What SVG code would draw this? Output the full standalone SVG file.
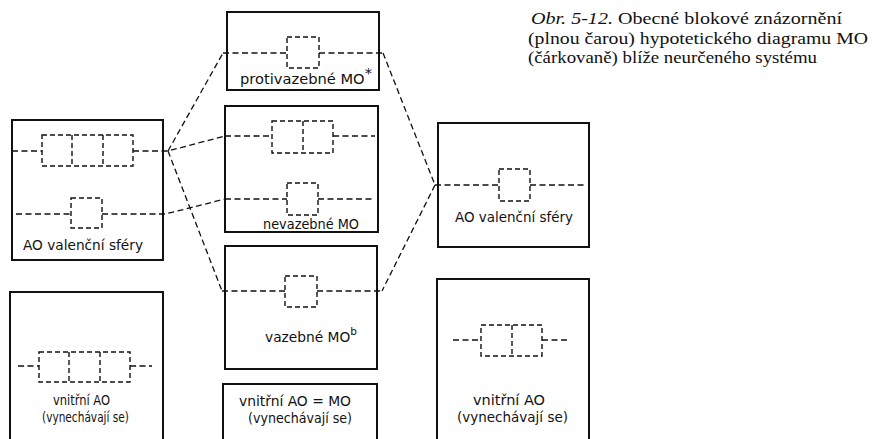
<svg xmlns="http://www.w3.org/2000/svg" width="876" height="439" viewBox="0 0 876 439">
<style>
.frame{fill:none;stroke:#111;stroke-width:2}
.orb{fill:none;stroke:#111;stroke-width:1.4;stroke-dasharray:5 3}
.dl{fill:none;stroke:#111;stroke-width:1.3;stroke-dasharray:6 3.5}
.lbl{font-family:"DejaVu Sans Condensed","DejaVu Sans",sans-serif;font-size:14.5px;fill:#111}
.cap{font-family:"Liberation Serif",serif;font-size:16.5px;fill:#111}
</style>
<rect width="876" height="439" fill="#fff"/>

<g id="caption">
<text class="cap" x="531" y="24" textLength="311" lengthAdjust="spacingAndGlyphs"><tspan font-style="italic">Obr. 5-12.</tspan> Obecné blokové znázornění</text>
<text class="cap" x="528" y="44" textLength="340" lengthAdjust="spacingAndGlyphs">(plnou čarou) hypotetického diagramu MO</text>
<text class="cap" x="528" y="63" textLength="289" lengthAdjust="spacingAndGlyphs">(čárkovaně) blíže neurčeného systému</text>
</g>

<g id="left-valence">
<rect class="frame" x="12" y="120" width="151" height="140"/>
<line class="dl" x1="12" y1="151" x2="42" y2="151"/>
<rect class="orb" x="42" y="135" width="91" height="31"/>
<line class="orb" x1="72" y1="135" x2="72" y2="166"/>
<line class="orb" x1="103" y1="135" x2="103" y2="166"/>
<line class="dl" x1="16" y1="214" x2="71" y2="214"/>
<rect class="orb" x="71" y="198" width="31" height="30"/>
<text class="lbl" x="23" y="250" textLength="120" lengthAdjust="spacingAndGlyphs">AO valenční sféry</text>
</g>

<g id="left-inner">
<path class="frame" d="M10,439 V292 H163 V439"/>
<line class="dl" x1="18" y1="366" x2="39" y2="366"/>
<line class="dl" x1="130" y1="366" x2="152" y2="366"/>
<rect class="orb" x="39" y="352" width="91" height="30"/>
<line class="orb" x1="69" y1="352" x2="69" y2="382"/>
<line class="orb" x1="100" y1="352" x2="100" y2="382"/>
<text class="lbl" x="53" y="405" textLength="57" lengthAdjust="spacingAndGlyphs">vnitřní AO</text>
<text class="lbl" x="42" y="422" textLength="87" lengthAdjust="spacingAndGlyphs">(vynechávají se)</text>
</g>

<g id="antibonding">
<rect class="frame" x="227" y="12" width="152" height="78"/>
<line class="dl" x1="223" y1="53" x2="287" y2="53"/>
<line class="dl" x1="319" y1="53" x2="383" y2="53"/>
<rect class="orb" x="287" y="37" width="32" height="31"/>
<text class="lbl" x="240" y="84" textLength="132" lengthAdjust="spacingAndGlyphs">protivazebné MO<tspan dy="-6">*</tspan></text>
</g>

<g id="nonbonding">
<rect class="frame" x="225" y="106" width="153" height="126"/>
<line class="dl" x1="225" y1="136" x2="272" y2="136"/>
<line class="dl" x1="333" y1="136" x2="375" y2="136"/>
<rect class="orb" x="272" y="121" width="61" height="32"/>
<line class="orb" x1="303" y1="121" x2="303" y2="153"/>
<line class="dl" x1="225" y1="199" x2="287" y2="199"/>
<line class="dl" x1="318" y1="199" x2="375" y2="199"/>
<rect class="orb" x="287" y="183" width="31" height="32"/>
<text class="lbl" x="263" y="229" textLength="96" lengthAdjust="spacingAndGlyphs">nevazebné MO</text>
</g>

<g id="bonding">
<rect class="frame" x="225" y="246" width="152" height="123"/>
<line class="dl" x1="222" y1="291" x2="285" y2="291"/>
<line class="dl" x1="317" y1="291" x2="382" y2="291"/>
<rect class="orb" x="285" y="276" width="32" height="31"/>
<text class="lbl" x="265" y="342" textLength="92" lengthAdjust="spacingAndGlyphs">vazebné MO<tspan dy="-7" font-size="11">b</tspan></text>
</g>

<g id="middle-inner">
<path class="frame" d="M223,439 V384 H377 V439"/>
<text class="lbl" x="239" y="406" textLength="112" lengthAdjust="spacingAndGlyphs">vnitřní AO = MO</text>
<text class="lbl" x="248" y="423" textLength="104" lengthAdjust="spacingAndGlyphs">(vynechávají se)</text>
</g>

<g id="right-valence">
<rect class="frame" x="438" y="123" width="151" height="124"/>
<line class="dl" x1="435" y1="185" x2="499" y2="185"/>
<line class="dl" x1="530" y1="185" x2="587" y2="185"/>
<rect class="orb" x="499" y="169" width="31" height="32"/>
<text class="lbl" x="455" y="222" textLength="118" lengthAdjust="spacingAndGlyphs">AO valenční sféry</text>
</g>

<g id="right-inner">
<path class="frame" d="M437,439 V279 H589 V439"/>
<line class="dl" x1="453" y1="340" x2="481" y2="340"/>
<line class="dl" x1="542" y1="340" x2="567" y2="340"/>
<rect class="orb" x="481" y="325" width="61" height="31"/>
<line class="orb" x1="512" y1="325" x2="512" y2="356"/>
<text class="lbl" x="473" y="405" textLength="72" lengthAdjust="spacingAndGlyphs">vnitřní AO</text>
<text class="lbl" x="457" y="422" textLength="111" lengthAdjust="spacingAndGlyphs">(vynechávají se)</text>
</g>

<g id="connectors">
<polyline class="dl" points="133,151 168,151 225,136"/>
<path class="dl" d="M102,214 H165 Q190,208 225,199"/>
<line class="dl" x1="168" y1="151" x2="223" y2="53"/>
<line class="dl" x1="168" y1="151" x2="222" y2="291"/>
<line class="dl" x1="383" y1="53" x2="435" y2="185"/>
<line class="dl" x1="435" y1="185" x2="382" y2="291"/>
</g>
</svg>
